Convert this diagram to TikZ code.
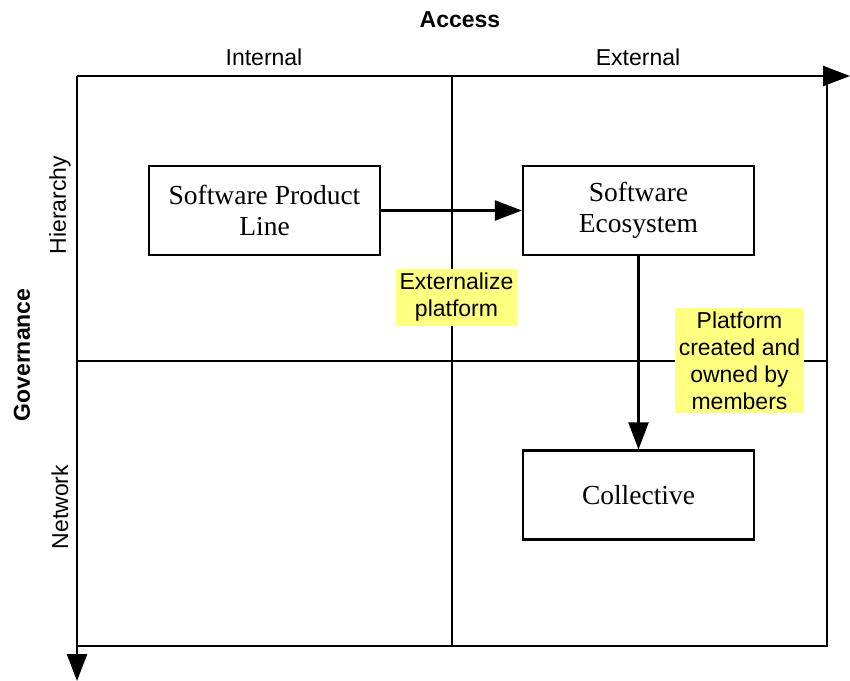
\documentclass[tikz,border=0pt]{standalone}
\usepackage{fontspec}
\setmainfont{Liberation Serif}
\setsansfont{Liberation Sans}
\usetikzlibrary{arrows.meta}
\definecolor{notefill}{RGB}{255,255,128}
\begin{document}
\begin{tikzpicture}[x=1pt,y=-1pt,
  axisline/.style={line width=2.4pt},
  gridline/.style={line width=2.2pt},
  tip/.style={-{Triangle[length=27pt,width=20pt]}},
  stage/.style={draw,line width=2.2pt,minimum width=231pt,minimum height=89pt,
    font=\fontsize{27.5}{31}\selectfont,align=center,inner sep=0pt},
  note/.style={fill=notefill,font=\sffamily\fontsize{23}{27}\selectfont,align=center,inner sep=4pt},
  axislabel/.style={font=\sffamily\fontsize{23}{26}\selectfont},
  axistitle/.style={font=\sffamily\bfseries\fontsize{23}{26}\selectfont}]
\useasboundingbox (0,0) rectangle (850,680);
\fill[white] (0,0) rectangle (850,680);

% quadrant frame
\coordinate (tl) at (77,76);
\coordinate (tr) at (827,76);
\coordinate (bl) at (77,646);
\coordinate (br) at (827,646);
\coordinate (topend) at (850,76);
\coordinate (leftend) at (77,681);
\coordinate (mt) at (452,76);
\coordinate (mb) at (452,646);
\coordinate (ml) at (77,361);
\coordinate (mr) at (827,361);

\draw[gridline] (tr) -- (br) -- (bl);
\draw[gridline] (mt) -- (mb);
\draw[gridline] (ml) -- (mr);
\draw[axisline,tip] (tl) -- (topend);
\draw[axisline,tip] (tl) -- (leftend);

% axis titles and labels
\node[axistitle] (access) at (460,20) {Access};
\node[axislabel] (internal) at (264,57) {Internal};
\node[axislabel] (external) at (638,57) {External};
\node[axistitle,rotate=90] (gov) at (22,355) {Governance};
\node[axislabel,rotate=90] (hier) at (60,205) {Hierarchy};
\node[axislabel,rotate=90] (net) at (60,507) {Network};

% stages
\node[stage] (spl) at (264.5,210.5) {Software Product\\Line};
\node[stage] (se) at (638.5,210.5) {Software\\Ecosystem};
\node[stage] (coll) at (638.5,495) {Collective};

\draw[gridline,tip] (spl) -- (se);
\draw[gridline,tip] (se) -- (coll);

% transition notes
\node[note] (ext) at (456.5,297.5) {Externalize\\platform};
\node[note] (own) at (739.5,360.5) {Platform\\created and\\owned by\\members};
\end{tikzpicture}
\end{document}
